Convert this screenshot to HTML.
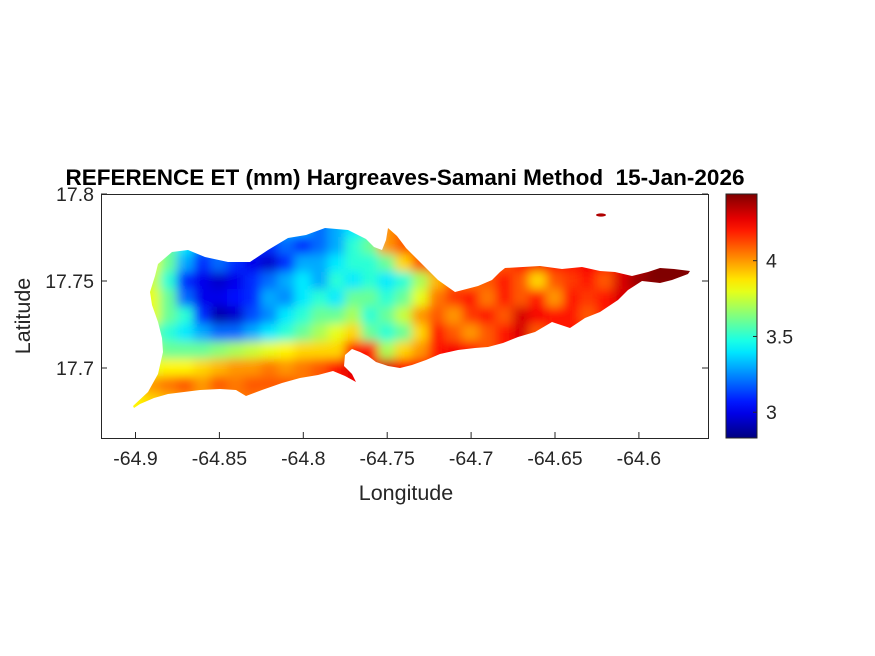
<!DOCTYPE html>
<html><head><meta charset="utf-8">
<style>
html,body{margin:0;padding:0;background:#fff;}
svg{display:block;font-family:"Liberation Sans",Arial,sans-serif;}
</style></head>
<body>
<svg id="fig" width="875" height="656" viewBox="0 0 875 656" xmlns="http://www.w3.org/2000/svg">
<defs>
<filter id="blur" x="-5%" y="-5%" width="110%" height="110%"><feGaussianBlur stdDeviation="5"/></filter>
<clipPath id="islandClip"><polygon id="islandPoly" points=""/></clipPath>
<linearGradient id="cbGrad" x1="0" y1="1" x2="0" y2="0"></linearGradient>
</defs>
<rect x="0" y="0" width="875" height="656" fill="#fff"/>
<text x="405" y="185" text-anchor="middle" font-size="22.5" font-weight="bold" fill="#000">REFERENCE ET (mm) Hargreaves-Samani Method&#160; 15-Jan-2026</text>
<g id="heat" clip-path="url(#islandClip)"><g id="cells" filter="url(#blur)"></g></g>
<ellipse cx="601" cy="215" rx="5" ry="1.6" fill="#b00000"/>
<rect x="101.5" y="194.5" width="607" height="244" fill="none" stroke="#262626" stroke-width="1"/>
<g id="xticks"></g>
<g id="yticks"></g>
<text x="406" y="500" text-anchor="middle" font-size="21.5" fill="#262626">Longitude</text>
<text transform="translate(30,316) rotate(-90)" text-anchor="middle" font-size="21.5" fill="#262626">Latitude</text>
<rect x="726" y="194" width="31" height="244" fill="url(#cbGrad)" stroke="#262626" stroke-width="1"/>
<g id="cbticks"></g>
</svg>
<script>
const lons=[-64.90,-64.89,-64.88,-64.87,-64.86,-64.85,-64.84,-64.83,-64.82,-64.81,-64.80,-64.79,-64.78,-64.77,-64.76,-64.75,-64.74,-64.73,-64.72,-64.71,-64.70,-64.69,-64.68,-64.67,-64.66,-64.65,-64.64,-64.63,-64.62,-64.61,-64.60,-64.59,-64.58,-64.57];
const lats=[17.79,17.78,17.77,17.76,17.75,17.74,17.73,17.72,17.71,17.70,17.69,17.68,17.67];
const et0=[3.8,3.8,3.7,3.6,3.5,3.4,3.3,3.3,3.3,3.3,3.3,3.3,3.3,3.4,3.5,4.0,4.1,4.1,4.1,4.1,4.1,4.1,4.1,4.2,4.2,4.2,4.2,4.2,4.2,4.3,4.3,4.4,4.4,4.4];
const et1=[3.8,3.8,3.7,3.5,3.4,3.3,3.2,3.2,3.2,3.3,3.3,3.2,3.3,3.4,3.5,4.0,4.1,4.1,4.1,4.1,4.1,4.1,4.1,4.2,4.2,4.2,4.2,4.2,4.2,4.3,4.3,4.4,4.4,4.4];
const et2=[3.8,3.8,3.6,3.4,3.2,3.2,3.2,3.1,3.1,3.2,3.1,3.2,3.3,3.5,3.6,4.0,4.1,4.1,4.1,4.1,4.1,4.1,4.1,4.2,4.2,4.2,4.2,4.2,4.2,4.3,4.3,4.4,4.4,4.4];
const et3=[3.8,3.8,3.6,3.3,3.1,3.2,3.1,3.0,2.95,3.1,3.3,3.3,3.4,3.5,3.5,3.6,3.9,4.1,4.1,4.1,4.1,4.1,4.1,4.2,4.25,4.2,4.2,4.25,4.2,4.25,4.35,4.45,4.45,4.45];
const et4=[3.8,3.75,3.5,3.1,3.0,2.95,3.0,3.1,3.2,3.3,3.4,3.3,3.5,3.4,3.5,3.4,3.5,3.7,3.95,4.1,4.05,4.1,4.2,4.1,3.9,4.1,4.15,4.2,4.1,4.3,4.4,4.45,4.45,4.45];
const et5=[3.85,3.8,3.6,3.2,3.0,3.0,3.05,3.1,3.3,3.25,3.4,3.5,3.4,3.6,3.6,3.5,3.6,3.8,4.05,4.15,4.2,4.05,4.2,4.1,4.2,4.0,4.2,4.15,4.2,4.3,4.3,4.3,4.3,4.3];
const et6=[3.85,3.8,3.6,3.5,3.1,2.9,2.95,3.15,3.25,3.4,3.5,3.6,3.6,3.7,3.5,3.6,3.75,4.0,4.1,4.0,4.15,4.2,4.1,4.3,4.25,4.2,4.2,4.1,4.2,4.2,4.2,4.2,4.2,4.2];
const et7=[3.75,3.6,3.5,3.4,3.3,3.2,3.2,3.3,3.4,3.5,3.6,3.7,3.8,3.9,3.6,3.5,3.6,3.9,4.2,4.1,4.0,4.1,4.2,4.3,4.1,4.2,4.2,4.2,4.2,4.2,4.2,4.2,4.2,4.2];
const et8=[3.75,3.7,3.6,3.6,3.6,3.65,3.7,3.75,3.8,3.85,3.9,3.9,3.9,4.2,4.2,3.7,3.9,4.0,4.2,4.25,4.2,4.1,4.2,4.2,4.2,4.2,4.2,4.2,4.2,4.2,4.2,4.2,4.2,4.2];
const et9=[3.8,3.8,3.85,3.85,3.9,3.95,4.0,4.0,4.05,4.0,4.05,4.1,4.2,4.3,4.25,4.3,4.2,4.2,4.2,4.2,4.2,4.2,4.2,4.2,4.2,4.2,4.2,4.2,4.2,4.2,4.2,4.2,4.2,4.2];
const et10=[3.9,4.0,4.05,4.1,4.0,4.1,4.05,4.1,4.1,4.1,4.05,4.1,4.2,4.25,4.2,4.2,4.2,4.2,4.2,4.2,4.2,4.2,4.2,4.2,4.2,4.2,4.2,4.2,4.2,4.2,4.2,4.2,4.2,4.2];
const et11=[3.85,3.9,3.95,4.0,4.0,4.0,4.05,4.05,4.0,4.0,4.0,4.0,4.1,4.1,4.1,4.1,4.1,4.1,4.1,4.1,4.1,4.1,4.1,4.1,4.1,4.1,4.1,4.1,4.1,4.1,4.1,4.1,4.1,4.1];
const et12=[3.85,3.9,3.95,4.0,4.0,4.0,4.05,4.05,4.0,4.0,4.0,4.0,4.1,4.1,4.1,4.1,4.1,4.1,4.1,4.1,4.1,4.1,4.1,4.1,4.1,4.1,4.1,4.1,4.1,4.1,4.1,4.1,4.1,4.1];
const etRows=[et0,et1,et2,et3,et4,et5,et6,et7,et8,et9,et10,et11,et12];
const xTickVals=[-64.9,-64.85,-64.8,-64.75,-64.7,-64.65,-64.6];
const xTickLabels=["-64.9","-64.85","-64.8","-64.75","-64.7","-64.65","-64.6"];
const yTickVals=[17.8,17.75,17.7];
const yTickLabels=["17.8","17.75","17.7"];
const cbTickVals=[3,3.5,4];
const cbTickLabels=["3","3.5","4"];
const cMin=2.83, cMax=4.44;

const NS='http://www.w3.org/2000/svg';
function xS(lon){return 135.5+(lon+64.9)*1678;}
function yS(lat){return 194+(17.8-lat)*1740;}
function cbY(v){return 438-(v-cMin)/(cMax-cMin)*244;}
function jet(t){
  t=Math.max(0,Math.min(1,t));
  const f=(x)=>Math.max(0,Math.min(1,x));
  const r=f(Math.min(4*t-1.5,-4*t+4.5)), g=f(Math.min(4*t-0.5,-4*t+3.5)), b=f(Math.min(4*t+0.5,-4*t+2.5));
  return 'rgb('+Math.round(r*255)+','+Math.round(g*255)+','+Math.round(b*255)+')';
}
function col(v){return jet((v-cMin)/(cMax-cMin));}

const outline=[[133,406],[148,392],[158,374],[163,352],[162,338],[158,322],[152,305],[150,292],[155,276],[158,264],[172,252],[188,250],[205,257],[228,262],[250,262],[268,250],[288,238],[306,235],[325,228],[348,230],[366,239],[374,247],[382,250],[386,240],[388,228],[397,236],[406,248],[420,262],[438,280],[455,292],[478,286],[492,280],[500,272],[505,268],[540,266],[562,269],[582,267],[600,271],[615,272],[632,276],[648,272],[660,268],[674,269],[690,271],[688,274],[672,280],[660,283],[642,281],[628,290],[618,300],[600,312],[585,318],[570,328],[552,322],[535,332],[518,337],[503,343],[488,347],[475,348],[458,350],[440,354],[426,360],[412,365],[400,368],[388,366],[376,362],[368,356],[360,352],[352,349],[345,355],[344,366],[352,374],[356,382],[345,376],[333,371],[318,375],[300,378],[282,383],[262,390],[246,396],[236,390],[220,389],[200,390],[184,392],[168,394],[154,398],[140,404],[134,408]];
document.getElementById('islandPoly').setAttribute('points',outline.map(p=>p.join(',')).join(' '));

const cells=document.getElementById('cells');
const dx=17.2, dy=17.5;
etRows.forEach((row,i)=>{
  row.forEach((v,j)=>{
    const r=document.createElementNS(NS,'rect');
    r.setAttribute('x',(xS(lons[j])-dx/2-0.5).toFixed(1));
    r.setAttribute('y',(yS(lats[i])-dy/2-0.5).toFixed(1));
    r.setAttribute('width',dx+1);
    r.setAttribute('height',dy+1);
    r.setAttribute('fill',col(v));
    
    
    cells.appendChild(r);
  });
});

const gx=document.getElementById('xticks');
xTickVals.forEach((v,i)=>{
  const x=xS(v);
  const l=document.createElementNS(NS,'line');
  l.setAttribute('x1',x);l.setAttribute('x2',x);l.setAttribute('y1',438);l.setAttribute('y2',432);
  l.setAttribute('stroke','#262626');
  
  
  gx.appendChild(l);
  const t=document.createElementNS(NS,'text');
  t.setAttribute('x',x);t.setAttribute('y',465);t.setAttribute('text-anchor','middle');
  t.setAttribute('font-size','19.5');t.setAttribute('fill','#262626');
  t.textContent=xTickLabels[i];
  
  
  gx.appendChild(t);
});
const gy=document.getElementById('yticks');
yTickVals.forEach((v,i)=>{
  const y=yS(v);
  const l=document.createElementNS(NS,'line');
  l.setAttribute('x1',101);l.setAttribute('x2',107);l.setAttribute('y1',y);l.setAttribute('y2',y);
  l.setAttribute('stroke','#262626');
  
  
  gy.appendChild(l);
  const l2=document.createElementNS(NS,'line');
  l2.setAttribute('x1',702);l2.setAttribute('x2',708);l2.setAttribute('y1',y);l2.setAttribute('y2',y);
  l2.setAttribute('stroke','#262626');
  
  
  gy.appendChild(l2);
  const t=document.createElementNS(NS,'text');
  t.setAttribute('x',94);t.setAttribute('y',y+7);t.setAttribute('text-anchor','end');
  t.setAttribute('font-size','19.5');t.setAttribute('fill','#262626');
  t.textContent=yTickLabels[i];
  
  
  gy.appendChild(t);
});

const grad=document.getElementById('cbGrad');
for(let k=0;k<=20;k++){
  const s=document.createElementNS(NS,'stop');
  s.setAttribute('offset',(k/20));
  s.setAttribute('stop-color',jet(k/20));
  grad.appendChild(s);
}
const gc=document.getElementById('cbticks');
cbTickVals.forEach((v,i)=>{
  const y=cbY(v);
  const l=document.createElementNS(NS,'line');
  l.setAttribute('x1',753);l.setAttribute('x2',757);l.setAttribute('y1',y);l.setAttribute('y2',y);
  l.setAttribute('stroke','#262626');
  
  
  gc.appendChild(l);
  const t=document.createElementNS(NS,'text');
  t.setAttribute('x',766);t.setAttribute('y',y+7);
  t.setAttribute('font-size','19.5');t.setAttribute('fill','#262626');
  t.textContent=cbTickLabels[i];
  
  
  gc.appendChild(t);
});
</script>
</body></html>
